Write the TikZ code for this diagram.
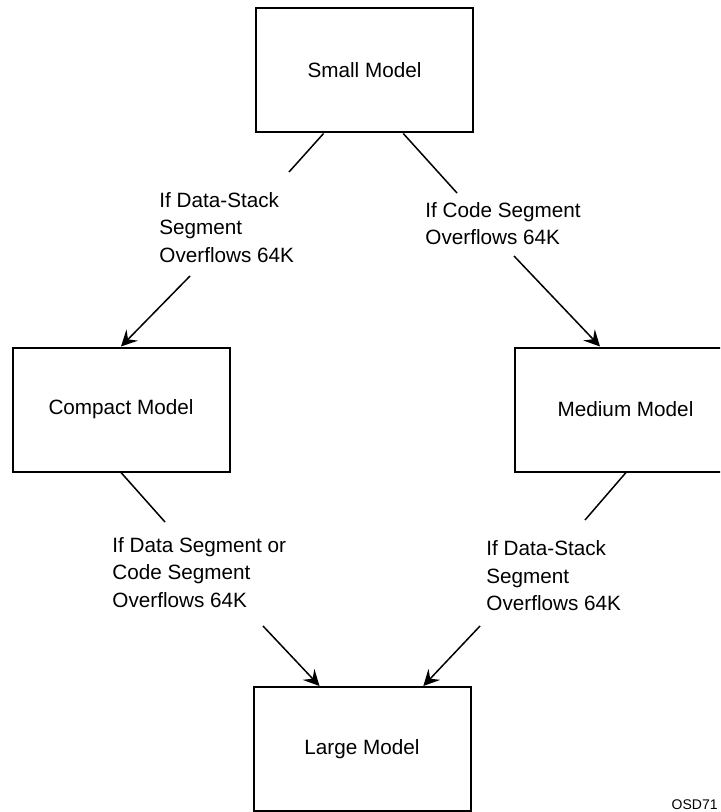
\documentclass[tikz,border=0pt]{standalone}
\usepackage{fontspec}
\setmainfont{Liberation Sans}
\usetikzlibrary{arrows.meta,calc}

\begin{document}
\begin{tikzpicture}[x=0.5pt,y=-0.5pt,>={Stealth[length=8pt,width=8pt,inset=3pt]},
    model/.style={draw,line width=1pt,minimum width=108.5pt,minimum height=62pt,inner sep=0pt,
      font=\fontsize{10.35}{13.8}\selectfont},
    cond/.style={anchor=north west,align=left,inner sep=0pt,
      font=\fontsize{10.35}{13.8}\selectfont},
    link/.style={line width=0.75pt}]
      \useasboundingbox (0,0) rectangle (720,812);
      \clip (0,0) rectangle (720,812);

      % memory models
      \node[model] (small)   at (364.5,70.5) {Small Model};
      \node[model] (compact) at (121,409.5)  {Compact Model};
      \node[model,minimum width=110.5pt] (medium) at (625.5,409.5) {Medium Model};
      \node[model] (large)   at (362,749)    {Large Model};

      % overflow conditions
      \node[cond] (dsTop)  at (159,192) {If Data-Stack\\Segment\\Overflows 64K};
      \node[cond] (csTop)  at (425,202) {If Code Segment\\Overflows 64K};
      \node[cond] (dcsLow) at (112,537) {If Data Segment or\\Code Segment\\Overflows 64K};
      \node[cond] (dsLow)  at (486,540) {If Data-Stack\\Segment\\Overflows 64K};

      % ends of the lines at the labels
      \coordinate (dsTopIn)   at (289,172);
      \coordinate (dsTopOut)  at (190,276);
      \coordinate (csTopIn)   at (457,193);
      \coordinate (csTopOut)  at (514,256);
      \coordinate (dcsLowIn)  at (165,522);
      \coordinate (dcsLowOut) at (263,626);
      \coordinate (dsLowIn)   at (585,520);
      \coordinate (dsLowOut)  at (480,626);

      % small -> compact / medium
      \draw[link] ($(small.south west)!0.313!(small.south east)$) -- (dsTopIn);
      \draw[link,->] (dsTopOut) -- (compact.north);
      \draw[link] ($(small.south west)!0.677!(small.south east)$) -- (csTopIn);
      \draw[link,->] (csTopOut) -- ($(medium.north)+(-25.5,0)$);

      % compact / medium -> large
      \draw[link] (compact.south) -- (dcsLowIn);
      \draw[link,->] (dcsLowOut) -- ($(large.north west)!0.306!(large.north east)$);
      \draw[link] ($(medium.south)+(0.5,0)$) -- (dsLowIn);
      \draw[link,->] (dsLowOut) -- ($(large.north west)!0.78!(large.north east)$);

      \node[anchor=north east,inner sep=0pt,font=\fontsize{7}{8}\selectfont] (figId) at (718,799) {OSD71};
    \end{tikzpicture}
\end{document}
